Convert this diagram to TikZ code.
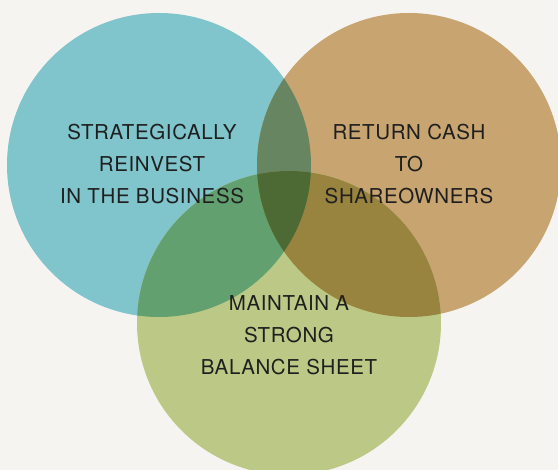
\documentclass[tikz,border=0pt]{standalone}
\usepackage{fontspec}
\setmainfont{TeX Gyre Heros}
\newfontfamily\labelfont[LetterSpace=3]{TeX Gyre Heros}
\begin{document}
\begin{tikzpicture}[x=1pt,y=-1pt,
  label/.style={align=center,text=black!88,font=\labelfont\fontsize{20.5}{32}\selectfont},
]
\definecolor{bg}{HTML}{F6F4F0}
\definecolor{cblue}{HTML}{80C4CC}
\definecolor{ctan}{HTML}{C8A470}
\definecolor{cgreen}{HTML}{BCC986}
\definecolor{cbt}{HTML}{688562}
\definecolor{cbg}{HTML}{62A070}
\definecolor{ctg}{HTML}{98843E}
\definecolor{call}{HTML}{4E6A34}
\def\rad{152}
% canvas
\fill[bg] (0,0) rectangle (558,470);
\useasboundingbox (0,0) rectangle (558,470);
\clip (0,0) rectangle (558,470);
% the three circles
\fill[cblue]  (159,165) circle (\rad);
\fill[ctan]   (409,165) circle (\rad);
\fill[cgreen] (289,323) circle (\rad);
% pairwise overlaps
\begin{scope}
  \clip (159,165) circle (\rad);
  \fill[cbt] (409,165) circle (\rad);
  \fill[cbg] (289,323) circle (\rad);
\end{scope}
\begin{scope}
  \clip (409,165) circle (\rad);
  \fill[ctg] (289,323) circle (\rad);
\end{scope}
% common region
\begin{scope}
  \clip (159,165) circle (\rad);
  \clip (409,165) circle (\rad);
  \fill[call] (289,323) circle (\rad);
\end{scope}
% labels
\node[label] (reinvest) at (152,164.5) {STRATEGICALLY\\REINVEST\\IN THE BUSINESS};
\node[label] (cash) at (409,164.5) {RETURN CASH\\TO\\SHAREOWNERS};
\node[label] (balance) at (289,335.5) {MAINTAIN A\\STRONG\\BALANCE SHEET};
\end{tikzpicture}
\end{document}
